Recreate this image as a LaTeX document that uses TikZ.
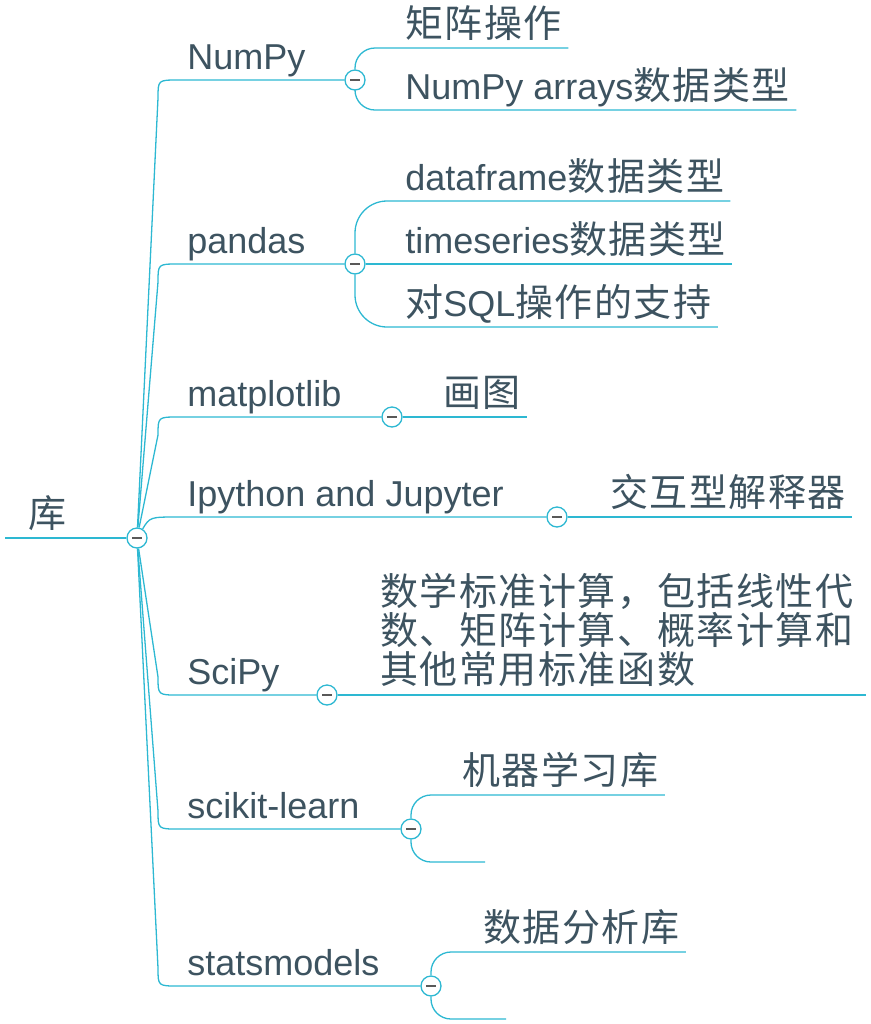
\documentclass[tikz,border=0pt]{standalone}
\usepackage{fontspec}
\setmainfont{Liberation Sans}
\newfontfamily\cjk[LetterSpace=4]{Noto Sans CJK SC}
\newcommand{\zh}[1]{{\cjk\fontsize{19}{19.5}\selectfont #1}}
\definecolor{branchc}{HTML}{2DB8D2}
\definecolor{textc}{HTML}{3D5360}
\tikzset{
  topic/.style={anchor=south west, inner xsep=3pt, inner ysep=0pt, text depth=5pt,
    text=textc, font=\fontsize{18}{20}\selectfont},
  note/.style={anchor=base west, inner xsep=3pt, inner ysep=0pt, text=textc,
    text width=240pt, align=left, font=\cjk\fontsize{19}{19.5}\selectfont},
  limb/.style={draw=branchc, line width=.65pt},
  twig/.style={limb, rounded corners=10pt},
  fold/.style={circle, draw=branchc, line width=.65pt, fill=white, minimum size=10pt,
    inner sep=0pt, path picture={\draw[gray!70!black, line width=1pt]
      ([xshift=-2.5pt]path picture bounding box.center) --
      ([xshift=2.5pt]path picture bounding box.center);}},
}
\newcommand{\limbto}[3]{\draw[limb] (rc) -- (158,-#2) .. controls (158,-#1) .. (178,-#1) -- (#3);}

\begin{document}
\begin{tikzpicture}[x=0.5pt,y=0.5pt]
  \useasboundingbox (0,0) rectangle (871,-1024);
  % knobs
  \node[fold] (rc) at (137,-538) {};
  \node[fold] (numpyc) at (355,-80) {};
  \node[fold] (pandasc) at (355,-264) {};
  \node[fold] (matc) at (392,-417) {};
  \node[fold] (ipyc) at (557,-517) {};
  \node[fold] (scic) at (327,-695) {};
  \node[fold] (skc) at (411,-829) {};
  \node[fold] (smc) at (431,-986) {};
  % root and main topics
  \node[topic, inner xsep=11.5pt] (root) at (5,-538) {\zh{库}};
  \node[topic] (numpy) at (181,-80) {NumPy};
  \node[topic] (pandas) at (181,-264) {pandas};
  \node[topic] (matplot) at (181,-417) {matplotlib};
  \node[topic] (ipy) at (181,-517) {Ipython and Jupyter};
  \node[topic] (scipy) at (181,-695) {SciPy};
  \node[topic] (sklearn) at (181,-829) {scikit-learn};
  \node[topic] (stats) at (181,-986) {statsmodels};
  % subtopics
  \node[topic] (juzhen) at (399,-48) {\zh{矩阵操作}};
  \node[topic] (arrays) at (399,-110) {NumPy arrays\zh{数据类型}};
  \node[topic] (dframe) at (399,-201) {dataframe\zh{数据类型}};
  \node[topic] (tseries) at (399,-264) {timeseries\zh{数据类型}};
  \node[topic] (sqlop) at (399,-327) {\zh{对}SQL\zh{操作的支持}};
  \node[topic] (huatu) at (437,-417) {\zh{画图}};
  \node[topic] (jiaohu) at (604,-517) {\zh{交互型解释器}};
  \node[note] (scitext) at (374,-605) {数学标准计算，包括线性代\\数、矩阵计算、概率计算和\\其他常用标准函数};
  \coordinate (scix) at (866,-695);
  \node[topic] (jiqi) at (456,-795) {\zh{机器学习库}};
  \coordinate (skx) at (485,-862);
  \node[topic] (shuju) at (477,-952) {\zh{数据分析库}};
  \coordinate (smx) at (506,-1019);
  % branches
  \draw[limb] (root.south west) -- (rc);
  \limbto{80}{98}{numpyc}
  \limbto{264}{282}{pandasc}
  \limbto{417}{435}{matc}
  \draw[limb] (rc) .. controls (150,-517) .. (178,-517) -- (ipyc);
  \limbto{695}{677}{scic}
  \limbto{829}{811}{skc}
  \limbto{986}{968}{smc}
  \draw[twig] (numpyc) |- (juzhen.south east);
  \draw[twig] (numpyc) |- (arrays.south east);
  \draw[twig, rounded corners=16pt] (pandasc) |- (dframe.south east);
  \draw[limb] (pandasc) -- (tseries.south east);
  \draw[twig, rounded corners=16pt] (pandasc) |- (sqlop.south east);
  \draw[limb] (matc) -- (huatu.south east);
  \draw[limb] (ipyc) -- (jiaohu.south east);
  \draw[limb] (scic) -- (scix);
  \draw[twig] (skc) |- (jiqi.south east);
  \draw[twig] (skc) |- (skx);
  \draw[twig] (smc) |- (shuju.south east);
  \draw[twig] (smc) |- (smx);
\end{tikzpicture}
\end{document}
